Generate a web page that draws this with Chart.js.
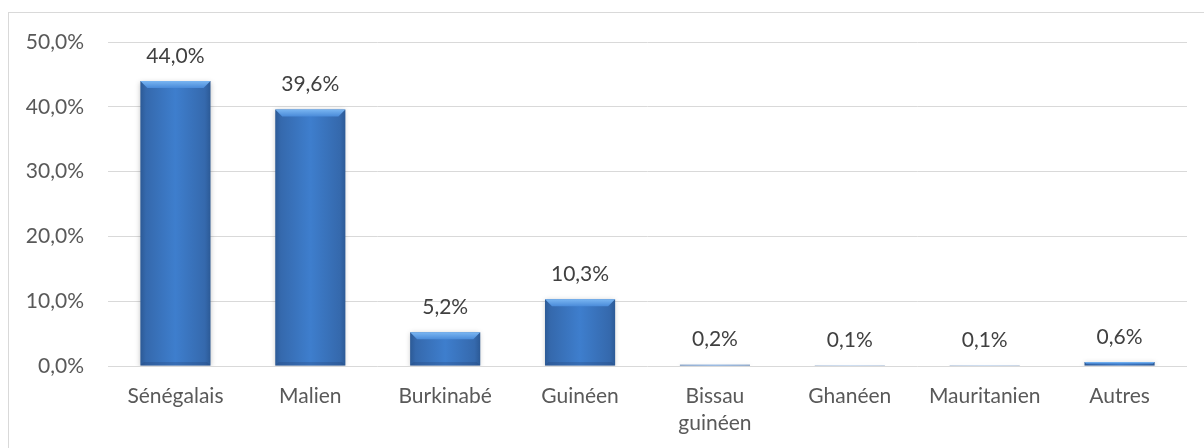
<!DOCTYPE html>
<html lang="fr">
<head>
<meta charset="UTF-8">
<title>Nationalités</title>
<script src="https://cdn.jsdelivr.net/npm/chart.js"></script>
<style>
  html, body { margin: 0; padding: 0; background: #fff; }
  #wrap { width: 1204px; height: 448px; position: relative; }
</style>
</head>
<body>
<div id="wrap"><canvas id="chart" width="1204" height="448"></canvas></div>
<script>
// data
const categories = ['Sénégalais', 'Malien', 'Burkinabé', 'Guinéen', ['Bissau', 'guinéen'], 'Ghanéen', 'Mauritanien', 'Autres'];
const shares = [44.0, 39.6, 5.2, 10.3, 0.2, 0.1, 0.1, 0.6];
const yTicks = [0, 10, 20, 30, 40, 50];

const FONT = 'Lato, "Open Sans", sans-serif';
const BAR_PCT = 0.52;

function pct(v) {
  return v.toFixed(1).replace('.', ',') + '%';
}

// horizontal gradient so the bars look rounded, like the Office bevel style
function barFill(ctx) {
  const chart = ctx.chart;
  const xs = chart.scales.x;
  const fallback = '#3a77c6';
  if (!xs || ctx.type !== 'data') return fallback;
  const cx = xs.getPixelForValue(ctx.dataIndex);
  const w = xs.width / categories.length * BAR_PCT;
  if (!Number.isFinite(cx) || !Number.isFinite(w) || w <= 0) return fallback;
  const g = chart.ctx.createLinearGradient(cx - w / 2, 0, cx + w / 2, 0);
  g.addColorStop(0, '#2c5a96');
  g.addColorStop(0.08, '#3569ad');
  g.addColorStop(0.5, '#3e7ecd');
  g.addColorStop(0.92, '#3569ad');
  g.addColorStop(1, '#2c5a96');
  return g;
}

const frame = {
  id: 'frame',
  beforeDraw(chart) {
    const c = chart.ctx;
    c.save();
    c.strokeStyle = '#d9d9d9';
    c.lineWidth = 1;
    c.strokeRect(8.5, 12.5, 1200, 440);
    c.restore();
  }
};

const bevel = {
  id: 'bevel',
  beforeDatasetsDraw(chart) {
    const c = chart.ctx;
    c.save();
    c.shadowColor = 'rgba(0,0,0,0.22)';
    c.shadowBlur = 5;
    c.shadowOffsetY = 1;
  },
  afterDatasetsDraw(chart) {
    const c = chart.ctx;
    c.restore();
    const meta = chart.getDatasetMeta(0);
    c.save();
    meta.data.forEach((el) => {
      const l = el.x - el.width / 2, r = el.x + el.width / 2;
      const h = el.base - el.y;
      const b = Math.min(7, h / 2);
      if (h < 2) return;
      // top bevel
      const g = c.createLinearGradient(0, el.y, 0, el.y + b);
      g.addColorStop(0, '#7ab6f2');
      g.addColorStop(1, '#4a8bd9');
      c.fillStyle = g;
      c.beginPath();
      c.moveTo(l, el.y);
      c.lineTo(r, el.y);
      c.lineTo(r - b, el.y + b);
      c.lineTo(l + b, el.y + b);
      c.closePath();
      c.fill();
      // bottom bevel, a bit darker
      c.fillStyle = 'rgba(30,60,110,0.25)';
      c.beginPath();
      c.moveTo(l, el.base);
      c.lineTo(r, el.base);
      c.lineTo(r - b / 2, el.base - b / 2);
      c.lineTo(l + b / 2, el.base - b / 2);
      c.closePath();
      c.fill();
    });
    // value labels
    c.fillStyle = '#404040';
    c.font = '21px ' + FONT;
    c.textAlign = 'center';
    c.textBaseline = 'middle';
    meta.data.forEach((el, i) => {
      c.fillText(pct(shares[i]), el.x, el.y - 25);
    });
    c.restore();
  }
};

new Chart(document.getElementById('chart'), {
  type: 'bar',
  data: {
    labels: categories,
    datasets: [{
      data: shares,
      backgroundColor: barFill,
      borderWidth: 0,
      categoryPercentage: 1,
      barPercentage: BAR_PCT
    }]
  },
  options: {
    responsive: false,
    animation: false,
    events: [],
    layout: { padding: { left: 0, right: 17, top: 42, bottom: 0 } },
    plugins: {
      legend: { display: false },
      tooltip: { enabled: false }
    },
    scales: {
      x: {
        grid: { display: false },
        border: { display: false },
        ticks: {
          color: '#595959',
          font: { family: FONT, size: 21, lineHeight: 1.28 },
          padding: 9,
          maxRotation: 0,
          autoSkip: false
        },
        afterFit(scale) { scale.height = 82; }
      },
      y: {
        min: 0,
        max: 50,
        afterBuildTicks(scale) { scale.ticks = yTicks.map(v => ({ value: v })); },
        grid: { color: '#d9d9d9', lineWidth: 1, drawTicks: false },
        border: { display: false },
        ticks: {
          color: '#595959',
          font: { family: FONT, size: 21 },
          padding: 24,
          callback: v => pct(v)
        },
        afterFit(scale) { scale.width = 108; }
      }
    }
  },
  plugins: [frame, bevel]
});
</script>
</body>
</html>
